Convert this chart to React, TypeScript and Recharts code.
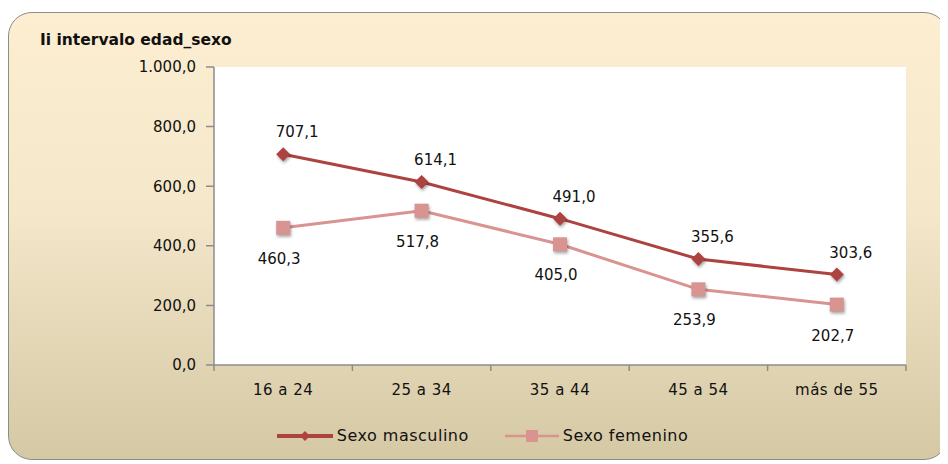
import React from 'react';
import {
  LineChart,
  Line,
  XAxis,
  YAxis,
  CartesianGrid,
  Legend,
} from 'recharts';

const categories = ['16 a 24', '25 a 34', '35 a 44', '45 a 54', 'más de 55'];
const masculino = [707.1, 614.1, 491.0, 355.6, 303.6];
const femenino = [460.3, 517.8, 405.0, 253.9, 202.7];
const yTicks = [0, 200, 400, 600, 800, 1000];

const MALE = '#AE4240';
const FEMALE = '#D99391';
const AXIS = '#8C8C8C';
const FONT = '"DejaVu Sans", sans-serif';
const X_TICK_SIZE = 6;
const X_TICK_MARGIN = 13;

const chartData = categories.map((c, i) => ({
  cat: c,
  masc: masculino[i],
  fem: femenino[i],
}));

// formato español: 1.000,0
const fmt = (v: number) => {
  const [ent, dec] = v.toFixed(1).split('.');
  return ent.replace(/\B(?=(\d{3})+(?!\d))/g, '.') + ',' + dec;
};

const shadow = { filter: 'drop-shadow(1px 2px 1.5px rgba(0,0,0,0.35))' };

const Diamond = (props: any) => {
  const { cx, cy } = props;
  const r = 7;
  return (
    <polygon
      key={`d-${props.index}`}
      points={`${cx},${cy - r} ${cx + r},${cy} ${cx},${cy + r} ${cx - r},${cy}`}
      fill={MALE}
      style={shadow}
    />
  );
};

const Square = (props: any) => {
  const { cx, cy } = props;
  const s = 14;
  return (
    <rect
      key={`s-${props.index}`}
      x={cx - s / 2}
      y={cy - s / 2}
      width={s}
      height={s}
      fill={FEMALE}
      style={shadow}
    />
  );
};

const makeLabel = (dx: number, dy: number) => (props: any) => {
  const { x, y, value, index } = props;
  return (
    <text
      key={`l-${index}`}
      x={x + dx}
      y={y + dy}
      textAnchor="middle"
      dominantBaseline="central"
      fontFamily={FONT}
      fontSize={15}
      fill="#111"
    >
      {fmt(value)}
    </text>
  );
};

// etiqueta de categoría + marcas de graduación entre categorías
const CatTick = (props: any) => {
  const { x, y, payload, visibleTicksCount } = props;
  const off = payload.offset || 0;
  const axisY = y - X_TICK_SIZE - X_TICK_MARGIN;
  const last = payload.index === visibleTicksCount - 1;
  return (
    <g>
      <line x1={x - off} y1={axisY} x2={x - off} y2={axisY + X_TICK_SIZE} stroke={AXIS} strokeWidth={1.5} />
      {last && (
        <line x1={x + off} y1={axisY} x2={x + off} y2={axisY + X_TICK_SIZE} stroke={AXIS} strokeWidth={1.5} />
      )}
      <text
        x={x}
        y={y}
        dy="0.71em"
        textAnchor="middle"
        fontFamily={FONT}
        fontSize={15}
        letterSpacing={0.5}
        fill="#111"
      >
        {payload.value}
      </text>
    </g>
  );
};

const LegendContent = () => (
  <div
    style={{
      display: 'flex',
      justifyContent: 'center',
      alignItems: 'center',
      height: 24,
      fontFamily: FONT,
      fontSize: 16,
      letterSpacing: 0.5,
      color: '#111',
      paddingLeft: 10,
    }}
  >
    <svg width={56} height={14} style={{ marginRight: 4 }}>
      <line x1={0} y1={7} x2={56} y2={7} stroke={MALE} strokeWidth={4} />
      <polygon points="28,2 33,7 28,12 23,7" fill={MALE} />
    </svg>
    <span style={{ marginRight: 36 }}>Sexo masculino</span>
    <svg width={54} height={14} style={{ marginRight: 4 }}>
      <line x1={0} y1={7} x2={54} y2={7} stroke={FEMALE} strokeWidth={2.5} />
      <rect x={21} y={1} width={12} height={12} fill={FEMALE} />
    </svg>
    <span>Sexo femenino</span>
  </div>
);

export default function App() {
  return (
    <div
      style={{
        position: 'relative',
        marginTop: 4,
        width: 940,
        height: 448,
        boxSizing: 'border-box',
        border: `1.5px solid ${AXIS}`,
        borderRadius: 24,
        background: 'linear-gradient(to bottom, #FDEED1 0%, #F4E7CA 45%, #D5C8A4 100%)',
        overflow: 'hidden',
      }}
    >
      <div
        style={{
          position: 'absolute',
          left: 31,
          top: 18,
          fontFamily: FONT,
          fontWeight: 'bold',
          fontSize: 15.5,
          color: '#111',
        }}
      >
        Ii intervalo edad_sexo
      </div>
      <LineChart
        width={940}
        height={448}
        data={chartData}
        margin={{ top: 55, right: 42, bottom: 12, left: 136 }}
        style={{ position: 'absolute', left: -1.5, top: -1.5 }}
      >
        <CartesianGrid fill="#fff" stroke="none" horizontal={false} vertical={false} />
        <XAxis
          dataKey="cat"
          scale="band"
          height={59}
          tickLine={{ stroke: 'none' }}
          tickSize={X_TICK_SIZE}
          tickMargin={X_TICK_MARGIN}
          stroke={AXIS}
          strokeWidth={1.5}
          interval={0}
          tick={<CatTick />}
        />
        <YAxis
          domain={[0, 1000]}
          ticks={yTicks}
          width={70}
          tickSize={8}
          tickMargin={10}
          tickFormatter={fmt}
          stroke={AXIS}
          strokeWidth={1.5}
          tick={{ fontFamily: FONT, fontSize: 15, fill: '#111' }}
        />
        <Legend
          verticalAlign="bottom"
          wrapperStyle={{ left: 0, width: 940 }}
          content={<LegendContent />}
        />
        <Line
          dataKey="fem"
          stroke={FEMALE}
          strokeWidth={3}
          dot={Square}
          activeDot={false}
          label={makeLabel(-4, 31)}
          isAnimationActive={false}
        />
        <Line
          dataKey="masc"
          stroke={MALE}
          strokeWidth={3}
          dot={Diamond}
          activeDot={false}
          label={makeLabel(14, -22)}
          isAnimationActive={false}
        />
      </LineChart>
    </div>
  );
}
